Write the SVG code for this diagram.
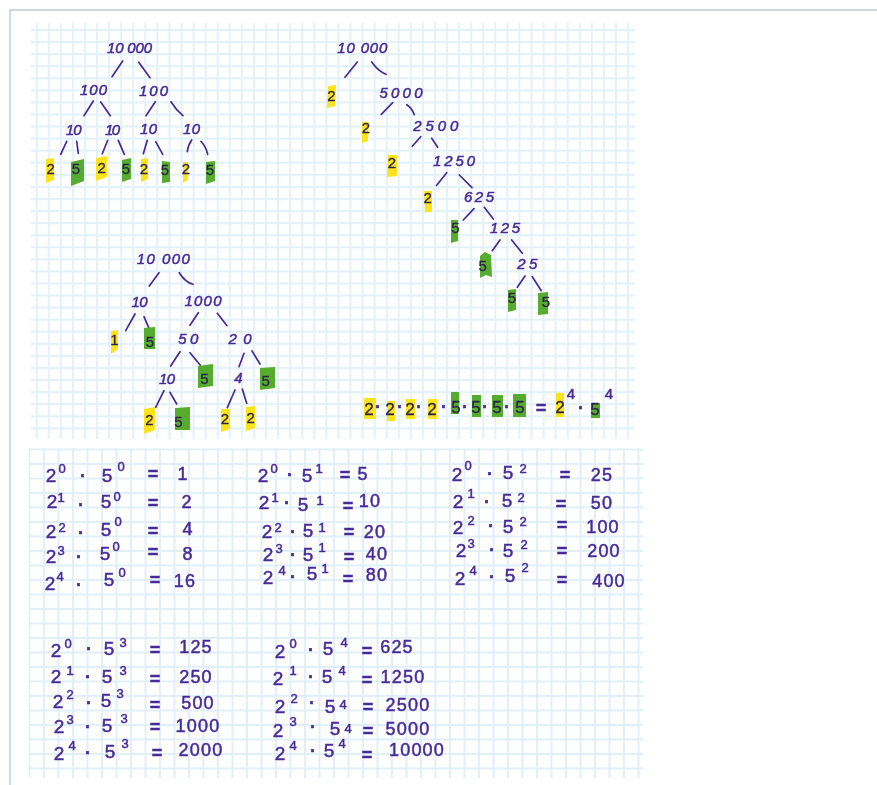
<svg xmlns="http://www.w3.org/2000/svg" width="877" height="785" viewBox="0 0 877 785">
<style>
text{font-family:"Liberation Sans",Arial,sans-serif;fill:#472b98;stroke:#472b98;stroke-width:.5;text-anchor:middle}
.t{font-size:15px;font-style:italic}
.d{font-size:15px;fill:#2c2448;stroke:#2c2448;stroke-width:.3}
.f{font-size:17px}
.b{font-size:19px}
.e{font-size:13px}
.x{font-size:15px}
.o{font-size:18px;font-weight:bold}
.v{font-size:18px;letter-spacing:1.2px}
.y{fill:#fbe41c}
.g{fill:#57ac2e}
#connectors path{fill:none;stroke:#472b98;stroke-width:1.7;stroke-linecap:round}
</style>
<defs>
<pattern id="g1" width="12.07" height="12.07" patternUnits="userSpaceOnUse" x="35.700" y="29"><path d="M1 0V12.07M0 1H12.07" fill="none" stroke="#e3f1fb" stroke-width="2"/></pattern>
<pattern id="g2" width="14.5" height="14.5" patternUnits="userSpaceOnUse" x="43" y="463"><path d="M1 0V14.5M0 1H14.5" fill="none" stroke="#e0effa" stroke-width="2"/></pattern>
<filter id="s" x="0" y="0" width="1" height="1"><feGaussianBlur stdDeviation=".5"/></filter>
</defs>
<rect width="877" height="785" fill="#fff"/>
<path d="M877 10H10V785" fill="none" stroke="#a3b1c8" stroke-width="1"/>
<rect x="31" y="23" width="604" height="416" fill="url(#g1)"/>
<rect x="29" y="448" width="614" height="330" fill="url(#g2)"/>
<g filter="url(#s)">
<g id="connectors">
<path d="M122.7 61L112 76.7M138.7 62.3L150 77.7M93.3 101L84 115.7M100.7 102L110.3 115.7M155.3 101.7L146 115.7M171 101.7Q176 110 183 115.7M66.7 141.3L60.7 154.3M76.7 141.3L78.3 153.3M107.7 140.3L102.3 153.7M118.3 140.3L124.3 154.3M147.3 140.3L143.3 153.7M155.7 141.7L162.7 154.3M191.7 140Q188 145 187.3 151.7M201 141.3Q206 147 207.7 154.3"/>
<path d="M357.3 62L345 77.3M371.7 62Q378 71 386 74.3M392.7 102.7L381.3 114.3M406.7 104.7Q412 108 414.3 114.7M420.7 136.7L412.3 146.3M431.7 138.3L437.7 147.3M446.7 172.7L436.7 185.3M459.3 175L472 187.7M474 208.7L463.3 220M484.3 207.3L493.3 219M500 240L492.3 250.7M511.7 240L522.3 253.3M525 276L517.3 287.3M532.3 276.7L541.3 290.7"/>
<path d="M159 272.7L149.3 286M179.3 272.7Q185 282 193 284.3M135 314L125.7 330.7M144 316.7L149 328.3M198.3 312.7L190 325.3M217.3 313.3L227 325.7M180 351.7L170.7 366M190 352.7L200.3 365.3M244 353.3L239 366.7M252 351L260 364M164 390.7L155.7 407.3M170 392.3L176.7 404M235 390L227.3 407.7M242.3 389L246.7 403.3"/>
</g>
<g id="tree1">
<g id="a1"><text class="t" x="129.500" y="53" textLength="45">10 000</text></g>
<g id="a2"><text class="t" x="93.500" y="95" textLength="27">100</text></g>
<g id="a3"><text class="t" x="153.500" y="96" textLength="29">100</text></g>
<g id="a4"><text class="t" x="73.700" y="135" textLength="16">10</text></g>
<g id="a5"><text class="t" x="112.500" y="135" textLength="15">10</text></g>
<g id="a6"><text class="t" x="148.500" y="134" textLength="17">10</text></g>
<g id="a7"><text class="t" x="191.500" y="134" textLength="17">10</text></g>
<g id="a8"><polygon class="y" points="46,159 54,158 54,180 46,183"/><text class="d" x="50.700" y="174">2</text></g>
<g id="a9"><polygon class="g" points="71,162 84,159 84,181 71,186"/><text class="d" x="76" y="174">5</text></g>
<g id="a10"><polygon class="y" points="96,158 107,156 107,177 96,181"/><text class="d" x="101.700" y="173">2</text></g>
<g id="a11"><polygon class="g" points="122,160 131,158 131,179 122,182"/><text class="d" x="126" y="174">5</text></g>
<g id="a12"><polygon class="y" points="141,159 148,158 148,179 141,182"/><text class="d" x="144" y="174">2</text></g>
<g id="a13"><polygon class="g" points="162,161 170,162 170,182 162,183"/><text class="d" x="165" y="175">5</text></g>
<g id="a14"><polygon class="y" points="183,162 188,162 188,180 183,183"/><text class="d" x="186" y="174">2</text></g>
<g id="a15"><polygon class="g" points="206,162 215,161 215,181 206,184"/><text class="d" x="210" y="175">5</text></g>
</g>
<g id="tree2">
<g id="b1"><text class="t" x="362.300" y="53" textLength="50">10 000</text></g>
<g id="b2"><polygon class="y" points="328,86 336,85 335,106 327,108"/><text class="d" x="331.300" y="101">2</text></g>
<g id="b3"><text class="t" x="401" y="98" textLength="43">5000</text></g>
<g id="b4"><polygon class="y" points="362,122 369,122 368,141 362,143"/><text class="d" x="366" y="133">2</text></g>
<g id="b5"><text class="t" x="435.800" y="131" textLength="45">2500</text></g>
<g id="b6"><polygon class="y" points="388,155 397,155 397,176 387,177"/><text class="d" x="392" y="168">2</text></g>
<g id="b7"><text class="t" x="454" y="166" textLength="42">1250</text></g>
<g id="b8"><polygon class="y" points="424,191 432,191 432,212 425,212"/><text class="d" x="427.700" y="203">2</text></g>
<g id="b9"><text class="t" x="479" y="202" textLength="30">625</text></g>
<g id="b10"><polygon class="g" points="451,220 458,220 458,241 451,243"/><text class="d" x="455.300" y="233">5</text></g>
<g id="b11"><text class="t" x="505" y="233" textLength="30">125</text></g>
<g id="b12"><polygon class="g" points="480,256 485,252 491,255 492,277 486,275 480,278"/><text class="d" x="482.700" y="271">5</text></g>
<g id="b13"><text class="t" x="527.300" y="269" textLength="20">25</text></g>
<g id="b14"><polygon class="g" points="508,290 516,289 516,310 508,312"/><text class="d" x="512" y="303">5</text></g>
<g id="b15"><polygon class="g" points="538,293 548,292 548,314 538,315"/><text class="d" x="546" y="307">5</text></g>
</g>
<g id="tree3">
<g id="c1"><text class="t" x="163.300" y="264" textLength="53">10 000</text></g>
<g id="c2"><text class="t" x="139.500" y="307" textLength="16">10</text></g>
<g id="c3"><text class="t" x="203" y="306" textLength="37">1000</text></g>
<g id="c4"><polygon class="y" points="111,331 118,330 118,349 111,354"/><text class="d" x="114.300" y="345">1</text></g>
<g id="c5"><polygon class="g" points="144,328 155,327 155,349 144,349"/><text class="d" x="150" y="347">5</text></g>
<g id="c6"><text class="t" x="188.300" y="344" textLength="20">50</text></g>
<g id="c7"><text class="t" x="240" y="344" textLength="23">20</text></g>
<g id="c8"><text class="t" x="167" y="384" textLength="16">10</text></g>
<g id="c9"><polygon class="g" points="198,366 213,364 213,386 198,388"/><text class="d" x="204.300" y="384">5</text></g>
<g id="c10"><text class="t" x="238.300" y="383">4</text></g>
<g id="c11"><polygon class="g" points="260,368 275,367 275,388 260,390"/><text class="d" x="265.700" y="386">5</text></g>
<g id="c12"><polygon class="y" points="144,409 155,407 155,430 144,434"/><text class="d" x="149.300" y="425">2</text></g>
<g id="c13"><polygon class="g" points="175,408 190,407 190,430 175,430"/><text class="d" x="178.300" y="427">5</text></g>
<g id="c14"><polygon class="y" points="221,409 230,409 230,429 221,432"/><text class="d" x="225" y="424">2</text></g>
<g id="c15"><polygon class="y" points="246,407 255,406 255,428 246,431"/><text class="d" x="250.700" y="423">2</text></g>
</g>
<g id="factorisation">
<polygon class="y" points="364,398 376,398 376,419 364,419"/><polygon class="y" points="387,401 395,401 395,421 387,421"/><polygon class="y" points="406,399 415,399 415,419 406,419"/><polygon class="y" points="428,399 437,399 437,419 428,419"/>
<polygon class="g" points="451,392 459,392 459,414 451,414"/><polygon class="g" points="472,395 481,395 481,417 472,417"/><polygon class="g" points="492,395 503,395 503,417 492,417"/><polygon class="g" points="513,394 526,394 526,417 513,417"/>
<polygon class="y" points="556,393 564,393 564,417 556,417"/><polygon class="g" points="591,403 600,403 600,418 591,418"/>
<text class="d f" x="369" y="415">2</text><text class="d f" x="390" y="415">2</text><text class="d f" x="410" y="415">2</text><text class="d f" x="432" y="415">2</text>
<text class="d f" x="456" y="413">5</text><text class="d f" x="476" y="413">5</text><text class="d f" x="497" y="413">5</text><text class="d f" x="520" y="413">5</text><text class="d f" x="560" y="413">2</text><text class="d f" x="595" y="415">5</text>
<text class="o" x="378" y="413">·</text><text class="o" x="400" y="413">·</text><text class="o" x="419" y="413">·</text><text class="o" x="444" y="413">·</text><text class="o" x="465" y="413">·</text><text class="o" x="485" y="413">·</text><text class="o" x="507" y="413">·</text><text class="o" x="581" y="414">·</text>
<text class="o" x="541" y="414">=</text><text class="x" x="571" y="399">4</text><text class="x" x="609" y="399">4</text>
</g>
<g id="col1">
<g id="r1"><text class="b" x="51" y="482">2</text><text class="e" x="62" y="473">0</text><text class="o" x="83" y="482">·</text><text class="b" x="107" y="482">5</text><text class="e" x="121" y="471">0</text><text class="o" x="153" y="480">=</text><text class="v" x="183" y="480">1</text></g>
<g id="r2"><text class="b" x="52" y="508">2</text><text class="e" x="61" y="502">1</text><text class="o" x="81" y="511">·</text><text class="b" x="106" y="508">5</text><text class="e" x="117" y="501">0</text><text class="o" x="153" y="509">=</text><text class="v" x="187" y="508">2</text></g>
<g id="r3"><text class="b" x="51" y="538">2</text><text class="e" x="62" y="532">2</text><text class="o" x="81" y="539">·</text><text class="b" x="106" y="536">5</text><text class="e" x="118" y="526">0</text><text class="o" x="153" y="537">=</text><text class="v" x="188" y="535">4</text></g>
<g id="r4"><text class="b" x="51" y="563">2</text><text class="e" x="61" y="555">3</text><text class="o" x="79" y="563">·</text><text class="b" x="105" y="560">5</text><text class="e" x="116" y="551">0</text><text class="o" x="153" y="558">=</text><text class="v" x="188" y="560">8</text></g>
<g id="r5"><text class="b" x="50" y="590">2</text><text class="e" x="60" y="581">4</text><text class="o" x="79" y="591">·</text><text class="b" x="109" y="586">5</text><text class="e" x="122" y="577">0</text><text class="o" x="155" y="586">=</text><text class="v" x="185" y="587">16</text></g>
</g>
<g id="col2">
<g id="r6"><text class="b" x="263" y="482">2</text><text class="e" x="274" y="473">0</text><text class="o" x="290" y="481">·</text><text class="b" x="307" y="482">5</text><text class="e" x="319" y="473">1</text><text class="o" x="345" y="481">=</text><text class="v" x="363" y="480">5</text></g>
<g id="r7"><text class="b" x="264" y="509">2</text><text class="e" x="275" y="502">1</text><text class="o" x="287" y="509">·</text><text class="b" x="303" y="511">5</text><text class="e" x="320" y="505">1</text><text class="o" x="348" y="512">=</text><text class="v" x="370" y="507">10</text></g>
<g id="r8"><text class="b" x="267" y="538">2</text><text class="e" x="278" y="532">2</text><text class="o" x="293" y="538">·</text><text class="b" x="308" y="537">5</text><text class="e" x="322" y="532">1</text><text class="o" x="349" y="538">=</text><text class="v" x="375" y="538">20</text></g>
<g id="r9"><text class="b" x="268" y="561">2</text><text class="e" x="279" y="553">3</text><text class="o" x="293" y="561">·</text><text class="b" x="308" y="561">5</text><text class="e" x="322" y="552">1</text><text class="o" x="349" y="563">=</text><text class="v" x="377" y="560">40</text></g>
<g id="r10"><text class="b" x="268" y="584">2</text><text class="e" x="282" y="575">4</text><text class="o" x="293" y="583">·</text><text class="b" x="312" y="580">5</text><text class="e" x="325" y="573">1</text><text class="o" x="348" y="585">=</text><text class="v" x="377" y="581">80</text></g>
</g>
<g id="col3">
<g id="r11"><text class="b" x="457" y="481">2</text><text class="e" x="468" y="470">0</text><text class="o" x="490" y="480">·</text><text class="b" x="508" y="479">5</text><text class="e" x="523" y="473">2</text><text class="o" x="565" y="481">=</text><text class="v" x="602" y="481">25</text></g>
<g id="r12"><text class="b" x="458" y="508">2</text><text class="e" x="471" y="498">1</text><text class="o" x="487" y="508">·</text><text class="b" x="507" y="507">5</text><text class="e" x="521" y="502">2</text><text class="o" x="561" y="510">=</text><text class="v" x="602" y="509">50</text></g>
<g id="r13"><text class="b" x="458" y="534">2</text><text class="e" x="471" y="525">2</text><text class="o" x="491" y="532">·</text><text class="b" x="508" y="533">5</text><text class="e" x="523" y="526">2</text><text class="o" x="562" y="531">=</text><text class="v" x="603" y="533">100</text></g>
<g id="r14"><text class="b" x="461" y="557">2</text><text class="e" x="471" y="548">3</text><text class="o" x="492" y="556">·</text><text class="b" x="508" y="557">5</text><text class="e" x="524" y="549">2</text><text class="o" x="562" y="557">=</text><text class="v" x="604" y="557">200</text></g>
<g id="r15"><text class="b" x="460" y="585">2</text><text class="e" x="473" y="575">4</text><text class="o" x="492" y="583">·</text><text class="b" x="510" y="582">5</text><text class="e" x="525" y="572">2</text><text class="o" x="562" y="586">=</text><text class="v" x="609" y="587">400</text></g>
</g>
<g id="col4">
<g id="r16"><text class="b" x="56" y="657">2</text><text class="e" x="68" y="648">0</text><text class="o" x="89" y="655">·</text><text class="b" x="109" y="655">5</text><text class="e" x="123" y="647">3</text><text class="o" x="155" y="656">=</text><text class="v" x="196" y="653">125</text></g>
<g id="r17"><text class="b" x="56" y="683">2</text><text class="e" x="70" y="675">1</text><text class="o" x="88" y="683">·</text><text class="b" x="107" y="683">5</text><text class="e" x="123" y="675">3</text><text class="o" x="155" y="685">=</text><text class="v" x="196" y="683">250</text></g>
<g id="r18"><text class="b" x="58" y="708">2</text><text class="e" x="70" y="699">2</text><text class="o" x="89" y="709">·</text><text class="b" x="106" y="707">5</text><text class="e" x="120" y="698">3</text><text class="o" x="155" y="711">=</text><text class="v" x="198" y="709">500</text></g>
<g id="r19"><text class="b" x="59" y="733">2</text><text class="e" x="70" y="724">3</text><text class="o" x="88" y="733">·</text><text class="b" x="107" y="732">5</text><text class="e" x="124" y="723">3</text><text class="o" x="155" y="733">=</text><text class="v" x="198" y="732">1000</text></g>
<g id="r20"><text class="b" x="59" y="760">2</text><text class="e" x="72" y="750">4</text><text class="o" x="88" y="759">·</text><text class="b" x="110" y="758">5</text><text class="e" x="125" y="748">3</text><text class="o" x="157" y="759">=</text><text class="v" x="201" y="756">2000</text></g>
</g>
<g id="col5">
<g id="r21"><text class="b" x="280" y="658">2</text><text class="e" x="293" y="648">0</text><text class="o" x="311" y="656">·</text><text class="b" x="328" y="655">5</text><text class="e" x="344" y="647">4</text><text class="o" x="367" y="657">=</text><text class="v" x="397" y="653">625</text></g>
<g id="r22"><text class="b" x="278" y="685">2</text><text class="e" x="293" y="675">1</text><text class="o" x="311" y="683">·</text><text class="b" x="327" y="683">5</text><text class="e" x="342" y="675">4</text><text class="o" x="367" y="686">=</text><text class="v" x="403" y="683">1250</text></g>
<g id="r23"><text class="b" x="280" y="713">2</text><text class="e" x="294" y="703">2</text><text class="o" x="312" y="709">·</text><text class="b" x="330" y="713">5</text><text class="e" x="343" y="709">4</text><text class="o" x="368" y="713">=</text><text class="v" x="408" y="711">2500</text></g>
<g id="r24"><text class="b" x="278" y="737">2</text><text class="e" x="293" y="726">3</text><text class="o" x="313" y="733">·</text><text class="b" x="335" y="735">5</text><text class="e" x="348" y="733">4</text><text class="o" x="368" y="737">=</text><text class="v" x="408" y="735">5000</text></g>
<g id="r25"><text class="b" x="280" y="760">2</text><text class="e" x="293" y="750">4</text><text class="o" x="313" y="757">·</text><text class="b" x="329" y="757">5</text><text class="e" x="342" y="748">4</text><text class="o" x="367" y="761">=</text><text class="v" x="417" y="756">10000</text></g>
</g>
</g>
</svg>
